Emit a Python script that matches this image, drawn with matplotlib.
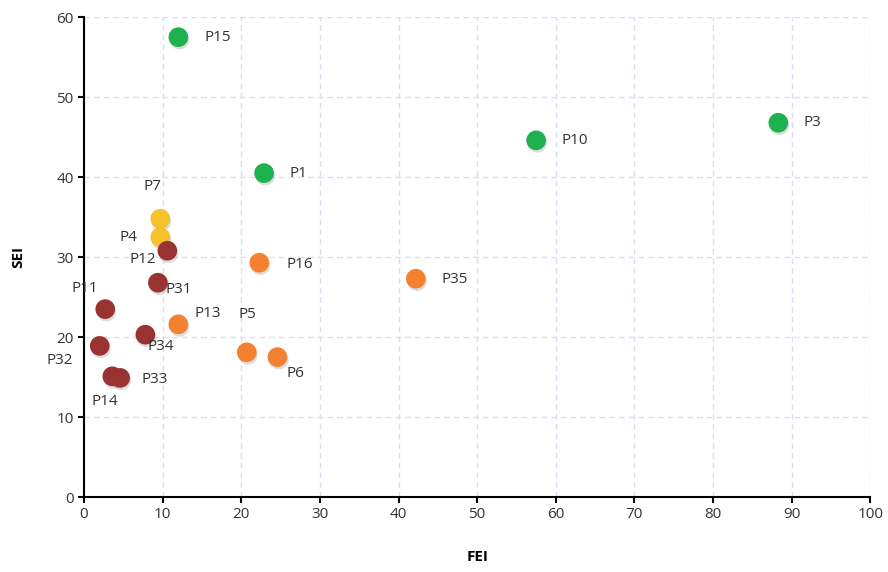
import numpy as np
import matplotlib.pyplot as plt
import matplotlib.patheffects as pe

plt.rcParams['font.family'] = ['Open Sans', 'DejaVu Sans']

names = ['P15', 'P1', 'P10', 'P3',
         'P7', 'P4',
         'P16', 'P35', 'P13', 'P5', 'P6',
         'P12', 'P31', 'P11', 'P34', 'P32', 'P14', 'P33']
fei = [12.0, 22.9, 57.5, 88.3,
       9.7, 9.7,
       22.3, 42.2, 12.0, 20.7, 24.6,
       10.6, 9.4, 2.7, 7.8, 2.0, 3.6, 4.6]
sei = [57.5, 40.5, 44.6, 46.8,
       34.8, 32.5,
       29.3, 27.3, 21.6, 18.1, 17.5,
       30.8, 26.8, 23.5, 20.3, 18.9, 15.1, 14.9]
group = ['g', 'g', 'g', 'g',
         'y', 'y',
         'o', 'o', 'o', 'o', 'o',
         'r', 'r', 'r', 'r', 'r', 'r', 'r']

colors = {'g': '#1db24e', 'y': '#f6c12b', 'o': '#f4812f', 'r': '#983331'}

# label offsets in pixels (dx, dy)
offsets = {'P15': (39, 0), 'P1': (34, 0), 'P10': (39, 0), 'P3': (34, 0),
           'P7': (-8, 32), 'P4': (-32, 0),
           'P16': (40, -2), 'P35': (39, -1), 'P13': (29, 11), 'P5': (1, 38), 'P6': (18, -16),
           'P12': (-25, -9), 'P31': (21, -7), 'P11': (-20, 21), 'P34': (15, -12),
           'P32': (-40, -15), 'P14': (-7, -25), 'P33': (35, -2)}

fig = plt.figure(figsize=(8.88, 5.72), dpi=100)
ax = fig.add_axes([0.0946, 0.131, 0.8855, 0.839])

for i in range(len(names)):
    ax.scatter(fei[i], sei[i], s=200, color=colors[group[i]], zorder=3,
               edgecolors='none',
               path_effects=[pe.SimplePatchShadow(offset=(0.8, -1.8), alpha=0.2, shadow_rgbFace='#555555'),
                             pe.Normal()])
    dx, dy = offsets[names[i]]
    ax.annotate(names[i], (fei[i], sei[i]), xytext=(dx * 0.72, dy * 0.72),
                textcoords='offset points', ha='center', va='center',
                fontsize=11, color='#333333', zorder=4)

ax.set_xlim(0, 100)
ax.set_ylim(0, 60)
ax.set_xticks(range(0, 101, 10))
ax.set_yticks(range(0, 61, 10))
ax.grid(True, color='#d6e0f0', linestyle=(0, (4, 3)), linewidth=1)
ax.set_axisbelow(True)
for s in ['top', 'right']:
    ax.spines[s].set_visible(False)
for s in ['left', 'bottom']:
    ax.spines[s].set_linewidth(1.5)
    ax.spines[s].set_color('black')
ax.tick_params(direction='out', length=4, width=1.5, labelsize=11, labelcolor='#333333')

ax.set_xlabel('FEI', fontsize=11, fontweight='bold', labelpad=20)
ax.set_ylabel('SEI', fontsize=11, fontweight='bold', labelpad=22)

fig.savefig('out.png', dpi=100)
